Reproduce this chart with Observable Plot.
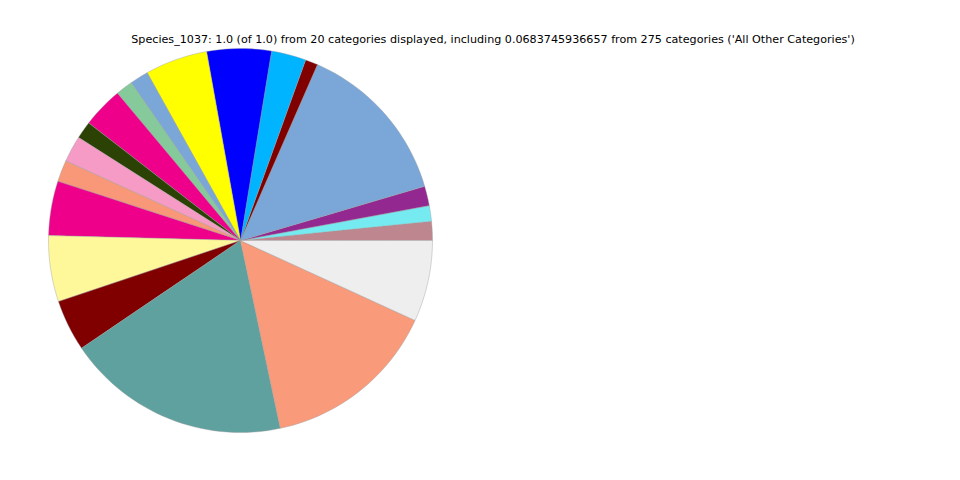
<!DOCTYPE html>
<html>
<head>
<meta charset="utf-8">
<script src="https://cdn.jsdelivr.net/npm/d3@7"></script>
<script src="https://cdn.jsdelivr.net/npm/@observablehq/plot@0.6"></script>
<style>
  html, body { margin: 0; padding: 0; background: #fff; }
  #chart svg { display: block; }
</style>
</head>
<body>
<div id="chart"></div>
<script>
const title = "Species_1037: 1.0 (of 1.0) from 20 categories displayed, including 0.0683745936657 from 275 categories ('All Other Categories')";

const categories = [
  "Category 1", "Category 2", "Category 3", "Category 4", "Category 5",
  "Category 6", "Category 7", "Category 8", "Category 9", "Category 10",
  "Category 11", "Category 12", "Category 13", "Category 14", "Category 15",
  "Category 16", "Category 17", "Category 18", "Category 19", "All Other Categories"
];

const values = [
  0.0160, 0.0131, 0.0165, 0.1388, 0.0106,
  0.0292, 0.0542, 0.0525, 0.0156, 0.0144,
  0.0344, 0.0147, 0.0222, 0.0181, 0.0458,
  0.0556, 0.0433, 0.1885, 0.1485, 0.0683745936657
];

const colors = [
  "#be878f", "#76eaf1", "#922890", "#7ba7d8", "#800000",
  "#00b4ff", "#0000ff", "#ffff00", "#7ba7d8", "#86c99a",
  "#ef008a", "#2c4104", "#f59bc5", "#f99878", "#ef008a",
  "#fff89a", "#800000", "#5fa19e", "#f99a7b", "#eeeeee"
];

// Pie geometry: slices start at 3 o'clock and go counterclockwise.
const total = d3.sum(values);
const centerX = 240, centerY = 240, radius = 192;

let acc = 0;
const slices = categories.map((name, i) => {
  const a0 = acc / total * 360;
  acc += values[i];
  const a1 = acc / total * 360;
  // map screen angle to longitude on a pole-centred azimuthal projection
  const lon = (a) => a + 90;
  const ring = [[0, 90]];
  const n = Math.max(2, Math.ceil((a1 - a0) / 2));
  for (let k = 0; k <= n; ++k) ring.push([lon(a0 + (a1 - a0) * k / n), 0]);
  ring.push([0, 90]);
  let f = {type: "Feature", properties: {name, value: values[i], color: colors[i]},
           geometry: {type: "Polygon", coordinates: [ring]}};
  if (d3.geoArea(f) > 2 * Math.PI) {
    f.geometry.coordinates = [ring.slice().reverse()];
  }
  return f;
});

const projection = d3.geoAzimuthalEquidistant()
  .rotate([0, -90])
  .scale(radius / (Math.PI / 2))
  .translate([centerX, centerY]);

const chart = Plot.plot({
  width: 960,
  height: 480,
  margin: 0,
  projection,
  style: {fontFamily: "DejaVu Sans, sans-serif", background: "#fff"},
  marks: [
    Plot.geo(slices, {
      fill: (d) => d.properties.color,
      stroke: "#999999",
      strokeWidth: 0.4,
      title: (d) => `${d.properties.name}: ${d.properties.value}`
    }),
    Plot.text([title], {
      frameAnchor: "top",
      dx: 12.5,
      dy: 39,
      lineAnchor: "middle",
      fontSize: 11.15,
      fill: "#000"
    })
  ]
});

document.getElementById("chart").appendChild(chart);
</script>
</body>
</html>
